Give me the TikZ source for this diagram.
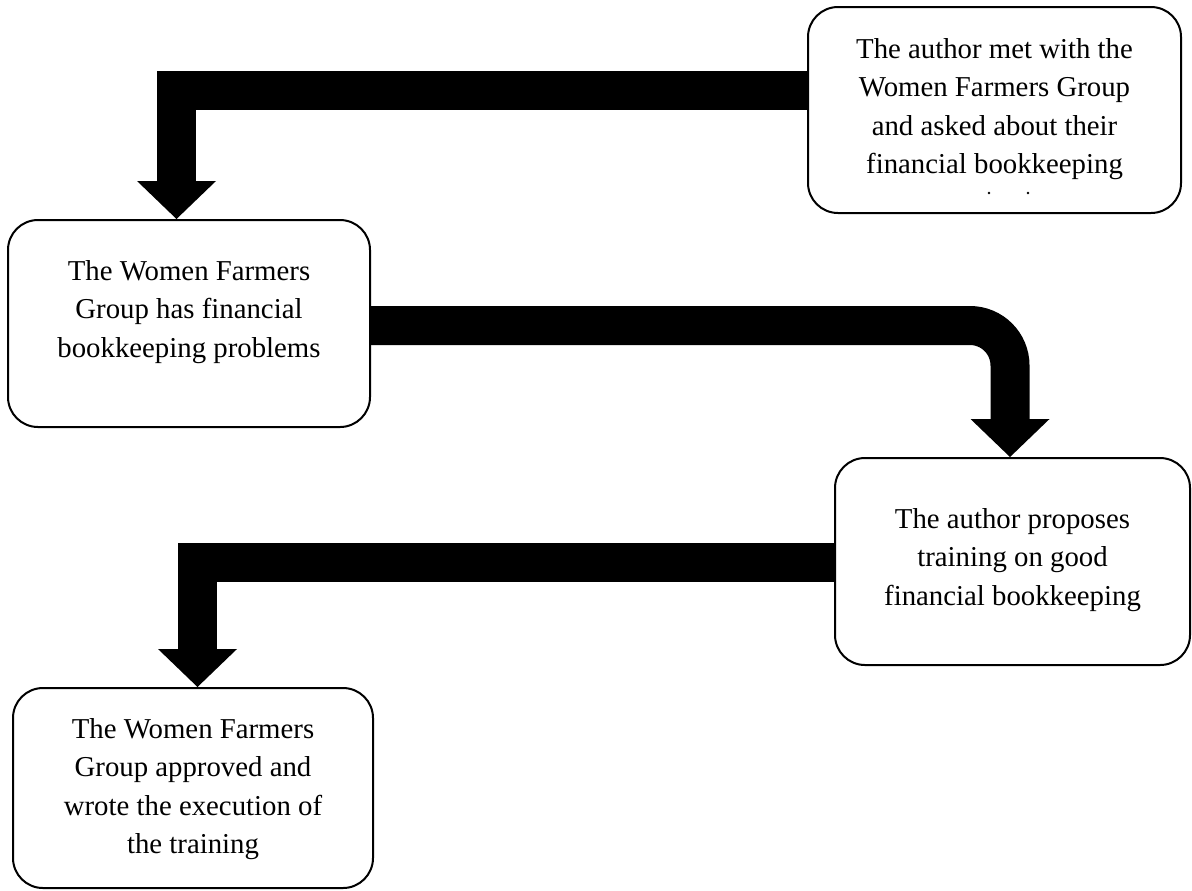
\documentclass[tikz,border=0pt]{standalone}
\usepackage{fontspec}
\setmainfont{Liberation Serif}
\usetikzlibrary{arrows.meta}
\begin{document}
\begin{tikzpicture}[x=0.5pt,y=-0.5pt,
  box/.style={draw, line width=1pt, rounded corners=15pt, inner sep=0pt},
  txt/.style={align=center, anchor=north, inner sep=0pt, font=\fontsize{14.4}{19.25}\selectfont},
  blk/.style={line width=19.5pt, -{Triangle[width=39.5pt,length=19pt,line width=0pt]}}
]
\useasboundingbox (0,0) rectangle (1192,890);
% boxes
\node[box, minimum width=186.5pt, minimum height=103pt] (b1) at (994.5,110) {};
\node[box, minimum width=181pt, minimum height=103.5pt] (b2) at (189,323.5) {};
\node[box, minimum width=177.5pt, minimum height=103.5pt] (b3) at (1012.5,561.5) {};
\node[box, minimum width=180pt, minimum height=100pt] (b4) at (193,788) {};
% texts
\node[txt] (t1) at (994.5,31) {\strut The author met with the\\Women Farmers Group\\and asked about their\\financial bookkeeping};
\fill (989,193) circle (0.65pt);
\fill (1028,193) circle (0.65pt);
\node[txt] (t2) at (189,253) {\strut The Women Farmers\\Group has financial\\bookkeeping problems};
\node[txt] (t3) at (1012.5,501) {\strut The author proposes\\training on good\\financial bookkeeping};
\node[txt] (t4) at (193,711) {\strut The Women Farmers\\Group approved and\\wrote the execution of\\the training};
% block arrows
\coordinate (k1) at (176.5,90.5);
\draw[blk] (b1.west |- k1) -- (k1) -- (k1 |- b2.north);
\coordinate (k2) at (1010,325.5);
\draw[blk, rounded corners=20pt] (b2.east |- k2) -- (k2) -- (k2 |- b3.north);
\coordinate (k3) at (197.5,562.5);
\draw[blk] (b3.west |- k3) -- (k3) -- (k3 |- b4.north);
\end{tikzpicture}
\end{document}
